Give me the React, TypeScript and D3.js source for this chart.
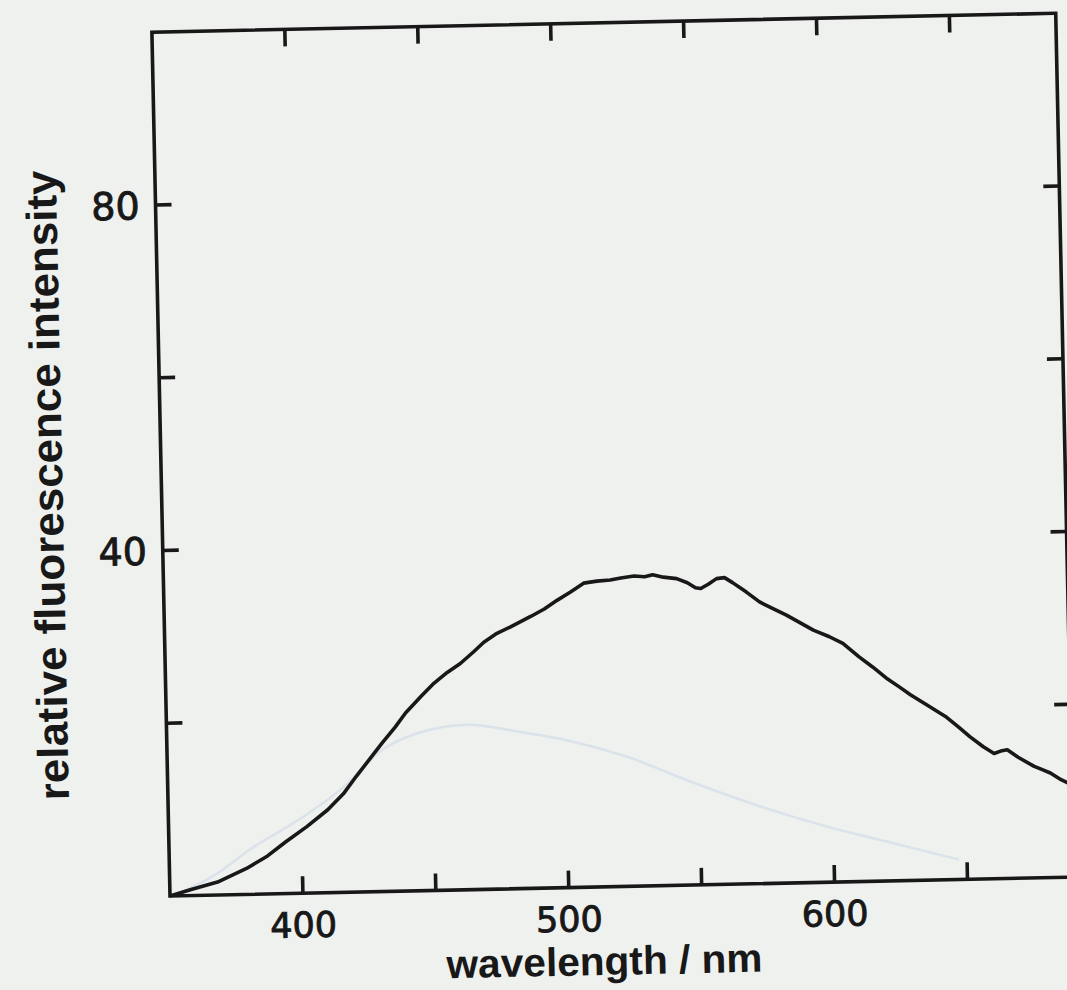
import React from "react";
import * as d3 from "d3";

const wavelength = [350, 358, 368, 379, 387, 394, 402, 410, 416, 421, 426, 431, 436, 440, 446, 451, 456, 461, 466, 470, 475, 480, 484, 488, 493, 498, 503, 508, 513, 518, 522, 527, 531, 534, 538, 543, 547, 550, 552, 555, 558, 561, 564, 569, 574, 579, 584, 589, 594, 600, 605, 611, 616, 621, 626, 630, 636, 643, 648, 652, 657, 661, 664, 666, 670, 676, 679, 682, 686, 690];
const intensity = [0, 0.7, 1.5, 3.0, 4.4, 6.0, 7.7, 9.6, 11.4, 13.4, 15.3, 17.2, 19.0, 20.6, 22.5, 24.0, 25.2, 26.2, 27.5, 28.6, 29.6, 30.3, 30.9, 31.5, 32.3, 33.3, 34.2, 35.2, 35.4, 35.5, 35.7, 35.9, 35.8, 36.0, 35.7, 35.5, 35.0, 34.4, 34.3, 34.8, 35.4, 35.5, 34.9, 33.8, 32.6, 31.8, 31.0, 30.1, 29.2, 28.4, 27.6, 26.0, 24.8, 23.5, 22.4, 21.5, 20.3, 18.9, 17.6, 16.5, 15.3, 14.5, 14.8, 14.9, 14.0, 12.9, 12.5, 12.1, 11.3, 10.7];

// faint show-through curve from the reverse page
const ghostWavelength = [355, 368, 380, 400, 415, 431, 444, 463, 482, 500, 523, 548, 573, 598, 622, 647];
const ghostIntensity = [0.5, 2.5, 5.1, 8.7, 11.9, 16.4, 18.2, 19.1, 18.2, 17.1, 15.0, 11.8, 8.9, 6.4, 4.4, 2.3];

const xTicks = [400, 450, 500, 550, 600, 650];
const xLabels = [400, 500, 600];
const yTicks = [20, 40, 60, 80];
const yLabels = [40, 80];

const xTitle = "wavelength / nm";
const yTitle = "relative fluorescence intensity";

export default function App() {
  const left = 170;
  const bottom = 896;
  const width = 904;
  const height = 864;
  const top = bottom - height;
  const right = left + width;

  const x = d3.scaleLinear().domain([350, 690]).range([left, right]);
  const y = d3.scaleLinear().domain([0, 100]).range([bottom, top]);

  const line = d3
    .line<number>()
    .x((_, i) => x(wavelength[i]))
    .y((d) => y(d))
    .curve(d3.curveLinear);

  const ghostLine = d3
    .line<number>()
    .x((_, i) => x(ghostWavelength[i]))
    .y((d) => y(d))
    .curve(d3.curveMonotoneX);

  const ink = "#181818";
  const tickLen = 17;
  const sw = 3.6;

  return (
    <svg
      width={1067}
      height={990}
      style={{ position: "absolute", left: 0, top: 0 }}
      xmlns="http://www.w3.org/2000/svg"
    >
      <rect x={0} y={0} width={1067} height={990} fill="#eff1ee" />
      <g transform={`rotate(-1.2, ${left}, ${bottom})`}>
        <path
          d={ghostLine(ghostIntensity) || ""}
          fill="none"
          stroke="#dae2ea"
          strokeWidth={2.5}
        />
        {/* frame */}
        <rect
          x={left}
          y={top}
          width={width}
          height={height}
          fill="none"
          stroke={ink}
          strokeWidth={sw}
        />
        {xTicks.map((t) => (
          <g key={"xt" + t}>
            <line x1={x(t)} x2={x(t)} y1={bottom} y2={bottom - tickLen} stroke={ink} strokeWidth={sw} />
            <line x1={x(t)} x2={x(t)} y1={top} y2={top + tickLen} stroke={ink} strokeWidth={sw} />
          </g>
        ))}
        {yTicks.map((t) => (
          <g key={"yt" + t}>
            <line x1={left} x2={left + 16} y1={y(t)} y2={y(t)} stroke={ink} strokeWidth={sw} />
            <line x1={right} x2={right - 16} y1={y(t)} y2={y(t)} stroke={ink} strokeWidth={sw} />
          </g>
        ))}
        {xLabels.map((t) => (
          <text
            key={"xl" + t}
            x={x(t)}
            y={bottom + 44}
            textAnchor="middle"
            fontFamily="DejaVu Sans, sans-serif"
            fontSize={35}
            fill={ink}
            stroke={ink}
            strokeWidth={0.9}
          >
            {t}
          </text>
        ))}
        {yLabels.map((t) => (
          <text
            key={"yl" + t}
            x={left - 16}
            y={y(t) + 14}
            textAnchor="end"
            fontFamily="DejaVu Sans, sans-serif"
            fontSize={38}
            fill={ink}
            stroke={ink}
            strokeWidth={0.9}
          >
            {t}
          </text>
        ))}
        <text
          x={603}
          y={984}
          textAnchor="middle"
          fontFamily="Liberation Sans, Arial, sans-serif"
          fontWeight="bold"
          fontSize={40}
          textLength={316}
          lengthAdjust="spacingAndGlyphs"
          fill={ink}
        >
          {xTitle}
        </text>
        <text
          transform={`translate(71, 483) rotate(-90)`}
          textAnchor="middle"
          fontFamily="Liberation Sans, Arial, sans-serif"
          fontWeight="bold"
          fontSize={43}
          textLength={630}
          lengthAdjust="spacingAndGlyphs"
          fill={ink}
        >
          {yTitle}
        </text>
        <path
          d={line(intensity) || ""}
          fill="none"
          stroke={ink}
          strokeWidth={sw}
          strokeLinejoin="round"
        />
      </g>
    </svg>
  );
}
